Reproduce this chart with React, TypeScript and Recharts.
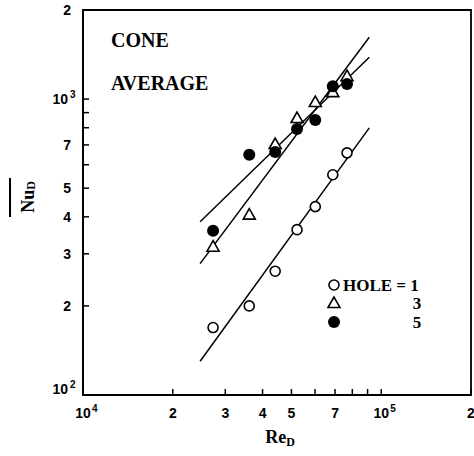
import React from 'react';
import { ScatterChart, Scatter, XAxis, YAxis, ReferenceArea, Customized } from 'recharts';

// measured points, Re_D is shared by the three hole counts
const reD = [27300, 36100, 44100, 52200, 60100, 68800, 76800];
const hole1 = [169, 200, 262, 362, 433, 555, 658];
const hole3 = [317, 407, 705, 863, 977, 1056, 1195];
const hole5 = [359, 648, 663, 793, 850, 1106, 1124];

// fitted correlation lines (end points)
const fitRe = [24700, 91200];
const fit1 = [130, 799];
const fit3 = [278, 1617];
const fit5 = [385, 1385];

const xTicks = [10000, 20000, 30000, 40000, 50000, 60000, 70000, 80000, 90000, 100000, 200000];
const xTickLabels = ['10^4', '2', '3', '4', '5', '', '7', '', '', '10^5', '2'];
const yTicks = [100, 200, 300, 400, 500, 600, 700, 800, 900, 1000, 2000];
const yTickLabels = ['10^2', '2', '3', '4', '5', '', '7', '', '', '10^3', '2'];

const pts = (xs: number[], ys: number[]) => xs.map((x, i) => ({ x, y: ys[i] }));

const tickStyle = { fontFamily: "'Liberation Sans', Arial, sans-serif", fontWeight: 700 };
const serifStyle = { fontFamily: "'Liberation Serif', 'DejaVu Serif', serif", fontWeight: 700 };

const XTick = (props: any) => {
    const { x, y, payload } = props;
    const label = xTickLabels[xTicks.indexOf(payload.value)] ?? '';
    const [base, exp] = label.split('^');
    return (
        <g>
            <line x1={x} y1={y} x2={x} y2={y - 6} stroke="#000" strokeWidth={1.5} />
            {base && (
                <text x={x} y={y + 23} textAnchor="middle" fontSize={14} fill="#000" style={tickStyle}>
                    {base}
                </text>
            )}
            {exp && (
                <text x={x + 9} y={y + 17} textAnchor="start" fontSize={10} fill="#000" style={tickStyle}>
                    {exp}
                </text>
            )}
        </g>
    );
};

const YTick = (props: any) => {
    const { x, y, payload } = props;
    const label = yTickLabels[yTicks.indexOf(payload.value)] ?? '';
    const [base, exp] = label.split('^');
    const shift = payload.value === 100 ? -6 : 0;
    return (
        <g>
            <line x1={x} y1={y} x2={x + 6} y2={y} stroke="#000" strokeWidth={1.5} />
            {base && (
                <text x={exp ? x - 15 : x - 12} y={y + 5 + shift} textAnchor="end" fontSize={14} fill="#000" style={tickStyle}>
                    {base}
                </text>
            )}
            {exp && (
                <text x={x - 13} y={y - 1 + shift} textAnchor="start" fontSize={10} fill="#000" style={tickStyle}>
                    {exp}
                </text>
            )}
        </g>
    );
};

const OpenCircle = (p: any) => <circle cx={p.cx} cy={p.cy} r={5} fill="#fff" stroke="#000" strokeWidth={1.6} />;
const FilledCircle = (p: any) => <circle cx={p.cx} cy={p.cy} r={6} fill="#000" />;
const Triangle = (p: any) => (
    <polygon
        points={`${p.cx},${p.cy - 6} ${p.cx - 6},${p.cy + 4.5} ${p.cx + 6},${p.cy + 4.5}`}
        fill="#fff"
        stroke="#000"
        strokeWidth={1.6}
    />
);
const NoMark = () => <g />;

const Annotations = () => (
    <g>
        <text x={111} y={47} fontSize={20} fill="#000" style={serifStyle}>CONE</text>
        <text x={111} y={90} fontSize={20} fill="#000" style={serifStyle}>AVERAGE</text>

        {/* legend */}
        <OpenCircle cx={334} cy={285} />
        <text x={343} y={291} fontSize={17} fill="#000" style={serifStyle}>HOLE = 1</text>
        <Triangle cx={334} cy={303} />
        <text x={417} y={309} textAnchor="middle" fontSize={17} fill="#000" style={serifStyle}>3</text>
        <FilledCircle cx={334} cy={322} />
        <text x={417} y={328} textAnchor="middle" fontSize={17} fill="#000" style={serifStyle}>5</text>

        {/* axis titles */}
        <text x={280} y={443} textAnchor="middle" fontSize={18} fill="#000" style={serifStyle}>
            Re<tspan fontSize={12} dy={3}>D</tspan>
        </text>
        <line x1={10} y1={178} x2={10} y2={217} stroke="#000" strokeWidth={2} />
        <text x={28} y={197} transform="rotate(-90, 28, 197)" textAnchor="middle" dominantBaseline="central"
            fontSize={18} fill="#000" style={serifStyle}>
            Nu<tspan fontSize={12} dy={3}>D</tspan>
        </text>
    </g>
);

const App: React.FC = () => {
    return (
        <div style={{ position: 'absolute', left: 0, top: 0, width: 474, height: 456, background: '#fff' }}>
            <ScatterChart width={474} height={456} margin={{ top: 10, right: 3, bottom: 0, left: 0 }}>
                <XAxis
                    dataKey="x"
                    type="number"
                    scale="log"
                    domain={[10000, 200000]}
                    ticks={xTicks}
                    allowDataOverflow
                    height={61}
                    tickSize={0}
                    tickMargin={0}
                    tickLine={false}
                    axisLine={{ stroke: '#000', strokeWidth: 1.8 }}
                    tick={XTick}
                    interval={0}
                />
                <YAxis
                    dataKey="y"
                    type="number"
                    scale="log"
                    domain={[100, 2000]}
                    ticks={yTicks}
                    allowDataOverflow
                    width={83}
                    tickSize={0}
                    tickMargin={0}
                    tickLine={false}
                    axisLine={{ stroke: '#000', strokeWidth: 1.8 }}
                    tick={YTick}
                    interval={0}
                />
                <ReferenceArea x1={10000} x2={200000} y1={100} y2={2000} fill="none" stroke="#000" strokeWidth={1.8} />

                <Scatter data={pts(fitRe, fit1)} line={{ stroke: '#000', strokeWidth: 1.5 }} shape={NoMark} isAnimationActive={false} legendType="none" />
                <Scatter data={pts(fitRe, fit3)} line={{ stroke: '#000', strokeWidth: 1.5 }} shape={NoMark} isAnimationActive={false} legendType="none" />
                <Scatter data={pts(fitRe, fit5)} line={{ stroke: '#000', strokeWidth: 1.5 }} shape={NoMark} isAnimationActive={false} legendType="none" />

                <Scatter name="HOLE=1" data={pts(reD, hole1)} shape={OpenCircle} isAnimationActive={false} />
                <Scatter name="3" data={pts(reD, hole3)} shape={Triangle} isAnimationActive={false} />
                <Scatter name="5" data={pts(reD, hole5)} shape={FilledCircle} isAnimationActive={false} />

                <Customized component={Annotations} />
            </ScatterChart>
        </div>
    );
};

export default App;
